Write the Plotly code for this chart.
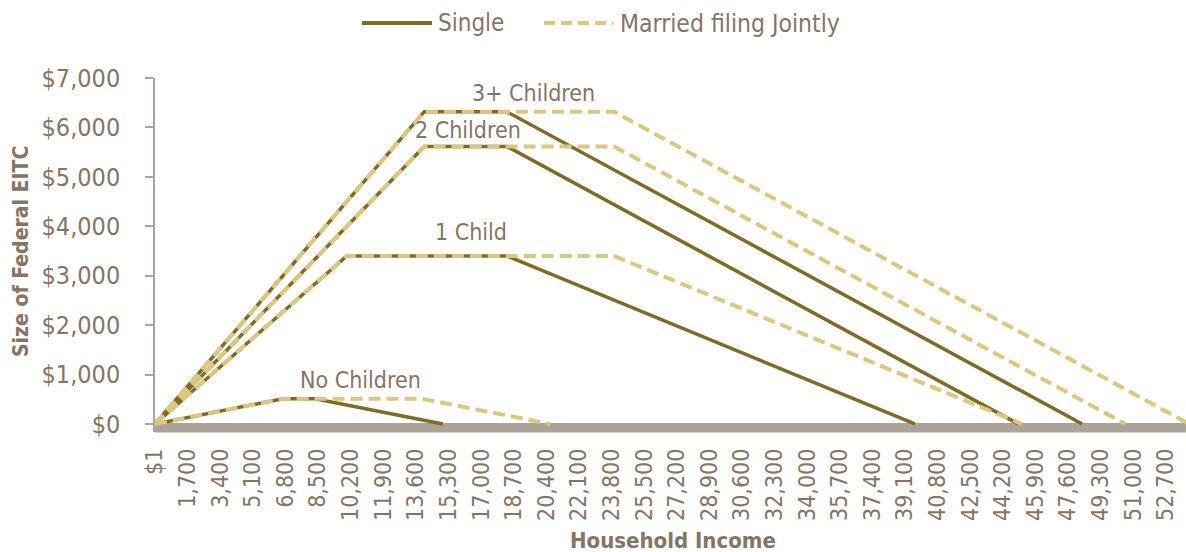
import plotly.graph_objects as go

# ---- data (2017 federal EITC schedule) ----
tick_values = list(range(0, 52701, 1700))
tick_labels = ["$1"] + [f"{v:,}" for v in tick_values[1:]]

none_single_x = [1, 6670, 8340, 15010]
none_single_y = [0, 510, 510, 0]
none_married_x = [1, 6670, 13930, 20600]
none_married_y = [0, 510, 510, 0]

one_single_x = [1, 10000, 18340, 39617]
one_single_y = [0, 3400, 3400, 0]
one_married_x = [1, 10000, 23930, 45207]
one_married_y = [0, 3400, 3400, 0]

two_single_x = [1, 14040, 18340, 45007]
two_single_y = [0, 5616, 5616, 0]
two_married_x = [1, 14040, 23930, 50597]
two_married_y = [0, 5616, 5616, 0]

three_single_x = [1, 14040, 18340, 48340]
three_single_y = [0, 6318, 6318, 0]
three_married_x = [1, 14040, 23930, 53930]
three_married_y = [0, 6318, 6318, 0]

group_labels = ["No Children", "1 Child", "2 Children", "3+ Children"]
label_x = [10740, 16475, 16319, 19708]
label_y = [890, 3884, 5948, 6696]

SINGLE = "#806b22"
MARRIED = "#dcc87c"
TEXT = "#857565"
FONT = "DejaVu Sans Condensed, Liberation Sans Narrow, Arial Narrow, sans-serif"

fig = go.Figure()
singles = [(none_single_x, none_single_y), (one_single_x, one_single_y),
           (two_single_x, two_single_y), (three_single_x, three_single_y)]
marrieds = [(none_married_x, none_married_y), (one_married_x, one_married_y),
            (two_married_x, two_married_y), (three_married_x, three_married_y)]
for (x, y), name in zip(singles, group_labels):
    fig.add_trace(go.Scatter(x=x, y=y, mode="lines", name="Single",
                             line=dict(color=SINGLE, width=3.5), showlegend=False))
for (x, y), name in zip(marrieds, group_labels):
    fig.add_trace(go.Scatter(x=x, y=y, mode="lines", name="Married filing Jointly",
                             line=dict(color=MARRIED, width=4, dash="12px,6px"), showlegend=False))

for t, x, y in zip(group_labels, label_x, label_y):
    fig.add_annotation(x=x, y=y, text=t, showarrow=False, xanchor="center", yanchor="middle",
                       font=dict(family=FONT, size=23, color=TEXT))

# page body margin is removed below, so figure pixels == page pixels
W, H = 1186, 552
L, R, T, B = 155, 1186, 78, 432   # plot area in pixels
def px(xp):
    return (xp - L) / (R - L)
def py(yp):
    return (B - yp) / (B - T)

# custom legend
fig.add_shape(type="line", xref="paper", yref="paper", x0=px(362), x1=px(432), y0=py(23), y1=py(23),
              line=dict(color=SINGLE, width=4))
fig.add_annotation(xref="paper", yref="paper", x=px(436), y=py(23), text="Single", showarrow=False,
                   xanchor="left", yanchor="middle", font=dict(family=FONT, size=24, color=TEXT))
fig.add_shape(type="line", xref="paper", yref="paper", x0=px(544), x1=px(613), y0=py(23), y1=py(23),
              line=dict(color=MARRIED, width=4, dash="11px,6px"))
fig.add_annotation(xref="paper", yref="paper", x=px(618), y=py(23), text="Married filing Jointly",
                   showarrow=False, xanchor="left", yanchor="middle",
                   font=dict(family=FONT, size=24.5, color=TEXT))

# axis titles
fig.add_annotation(xref="paper", yref="paper", x=px(673), y=py(540), text="<b>Household Income</b>",
                   showarrow=False, xanchor="center", yanchor="middle",
                   font=dict(family=FONT, size=22, color=TEXT))
fig.add_annotation(xref="paper", yref="paper", x=px(21), y=py(252), text="<b>Size of Federal EITC</b>",
                   showarrow=False, xanchor="center", yanchor="middle", textangle=-90,
                   font=dict(family=FONT, size=21, color=TEXT))

# thick grey category axis band
fig.add_shape(type="rect", xref="paper", yref="paper", x0=0, x1=1, y0=py(432.5), y1=py(423),
              fillcolor="#aba299", line=dict(width=0), layer="below")

fig.update_layout(
    width=W, height=H,
    margin=dict(l=L, r=W - R, t=T, b=H - B, pad=0),
    paper_bgcolor="white", plot_bgcolor="white",
    font=dict(family=FONT, size=24, color=TEXT),
    showlegend=False,
)
fig.update_xaxes(range=[0, (R - L) / 0.01918], tickmode="array", tickvals=tick_values,
                 ticktext=tick_labels, tickangle=-90, showgrid=False, zeroline=False,
                 showline=False, ticks="", automargin=False, ticklabelstandoff=11,
                 tickfont=dict(family=FONT, size=23, color=TEXT))
fig.update_yaxes(range=[-162, 7000], tick0=0, dtick=1000, tickprefix="$", tickformat=",",
                 showgrid=False, zeroline=False, showline=True, linecolor="#aaa49e", linewidth=1.5,
                 ticks="outside", ticklen=8, tickcolor="#aaa49e", tickwidth=1.5, automargin=False,
                 tickfont=dict(family=FONT, size=25, color=TEXT), ticklabelstandoff=20)

fig.write_html("out.html", config={"displayModeBar": False},
               post_script="document.body.style.margin='0';document.body.style.overflow='hidden';")
